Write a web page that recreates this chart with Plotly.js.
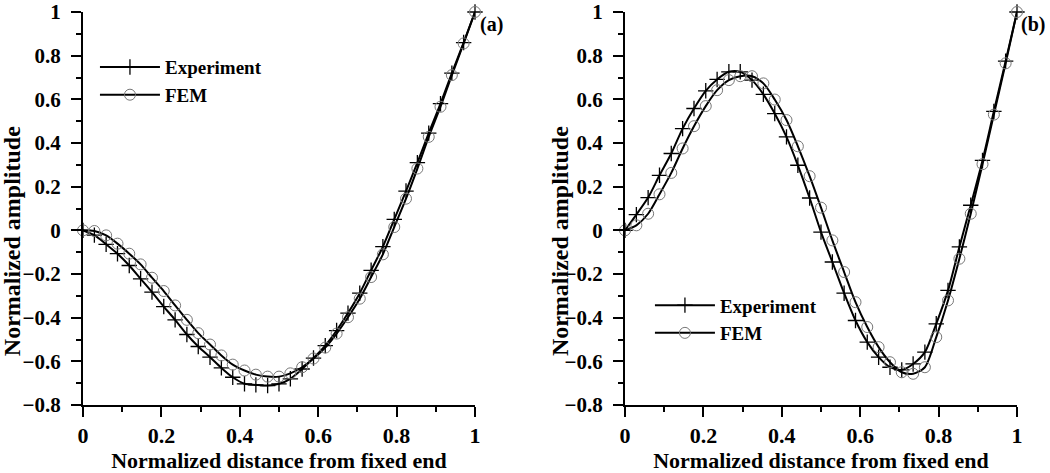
<!DOCTYPE html>
<html>
<head>
<meta charset="utf-8">
<script src="https://cdn.plot.ly/plotly-3.0.1.min.js"></script>
<style>
  html, body { margin: 0; padding: 0; background: #fff; }
  #chart { width: 1050px; height: 473px; }
</style>
</head>
<body>
<div id="chart"></div>
<script>
// Normalized positions along the beam
const positions = [0, 0.029, 0.059, 0.088, 0.118, 0.147, 0.176, 0.206, 0.235, 0.265, 0.294, 0.324,
  0.353, 0.382, 0.412, 0.441, 0.471, 0.5, 0.529, 0.559, 0.588, 0.618, 0.647, 0.676, 0.706, 0.735,
  0.765, 0.794, 0.824, 0.853, 0.882, 0.912, 0.941, 0.971, 1];

// (a) mode shape
const expA = [0, -0.022, -0.064, -0.107, -0.161, -0.222, -0.283, -0.349, -0.410, -0.477, -0.532, -0.581,
  -0.630, -0.673, -0.703, -0.708, -0.711, -0.703, -0.680, -0.635, -0.585, -0.528, -0.459, -0.379, -0.288,
  -0.183, -0.075, 0.05, 0.18, 0.31, 0.445, 0.58, 0.72, 0.86, 1.0];
const femA = [0, -0.003, -0.023, -0.061, -0.107, -0.156, -0.217, -0.278, -0.344, -0.410, -0.471, -0.523,
  -0.573, -0.615, -0.642, -0.661, -0.670, -0.670, -0.655, -0.627, -0.587, -0.537, -0.473, -0.398, -0.313,
  -0.214, -0.110, 0.015, 0.145, 0.283, 0.428, 0.566, 0.711, 0.856, 1.0];

// (b) mode shape
const expB = [0, 0.072, 0.150, 0.252, 0.352, 0.466, 0.558, 0.639, 0.691, 0.726, 0.726, 0.688, 0.623,
  0.535, 0.428, 0.298, 0.148, -0.008, -0.145, -0.288, -0.413, -0.512, -0.581, -0.627, -0.639, -0.612,
  -0.558, -0.428, -0.275, -0.076, 0.115, 0.32, 0.545, 0.775, 1.0];
const femB = [0, 0.023, 0.076, 0.165, 0.263, 0.375, 0.477, 0.569, 0.642, 0.688, 0.706, 0.706, 0.673,
  0.599, 0.505, 0.385, 0.248, 0.104, -0.046, -0.191, -0.329, -0.443, -0.535, -0.604, -0.650, -0.657,
  -0.627, -0.489, -0.321, -0.130, 0.076, 0.303, 0.53, 0.765, 1.0];

const seriesNames = ['Experiment', 'FEM'];
const panelLabels = ['(a)', '(b)'];
const xTitle = 'Normalized distance from fixed end';
const yTitle = 'Normalized amplitude';

const FONT = 'Liberation Serif, Times New Roman, serif';

function expTrace(y, xa, ya, leg) {
  return {
    x: positions, y: y, xaxis: xa, yaxis: ya, legend: leg,
    name: seriesNames[0], type: 'scatter', mode: 'lines+markers', cliponaxis: false,
    line: {color: '#000', width: 2, shape: 'spline', smoothing: 0.8},
    marker: {symbol: 'cross-thin', size: 11, color: '#000', line: {color: '#000', width: 1.3}}
  };
}
function femTrace(y, xa, ya, leg) {
  return {
    x: positions, y: y, xaxis: xa, yaxis: ya, legend: leg,
    name: seriesNames[1], type: 'scatter', mode: 'lines+markers', cliponaxis: false,
    line: {color: '#000', width: 2, shape: 'spline', smoothing: 0.8},
    marker: {symbol: 'circle-open', size: 11, color: '#777', line: {color: '#777', width: 1}}
  };
}

const data = [
  expTrace(expA, 'x', 'y', 'legend'),
  femTrace(femA, 'x', 'y', 'legend'),
  expTrace(expB, 'x2', 'y2', 'legend2'),
  femTrace(femB, 'x2', 'y2', 'legend2')
];

function xAxis(domain, anchor) {
  return {
    domain: domain, anchor: anchor, range: [0, 1], dtick: 0.2, tick0: 0,
    showline: true, linecolor: '#000', linewidth: 2, mirror: false,
    ticks: 'outside', ticklen: 10, tickwidth: 2, tickcolor: '#000',
    minor: {dtick: 0.1, ticks: 'outside', ticklen: 5, tickwidth: 2, tickcolor: '#000'},
    showgrid: false, zeroline: false, ticklabelstandoff: 0, ticklabeloverflow: 'allow',
    tickfont: {family: FONT, size: 22, color: '#000', weight: 'bold'},
    title: {text: xTitle, standoff: 8, font: {family: FONT, size: 22, color: '#000', weight: 'bold'}}
  };
}
function yAxis(anchor) {
  return {
    domain: [0, 1], anchor: anchor, range: [-0.8, 1], dtick: 0.2, tick0: 0,
    showline: true, linecolor: '#000', linewidth: 2, mirror: false,
    ticks: 'outside', ticklen: 10, tickwidth: 2, tickcolor: '#000',
    minor: {dtick: 0.1, ticks: 'outside', ticklen: 5, tickwidth: 2, tickcolor: '#000'},
    showgrid: false, zeroline: false, ticklabelstandoff: 6, ticklabeloverflow: 'allow',
    tickfont: {family: FONT, size: 21, color: '#000', weight: 'bold'}
  };
}

const legendBase = {
  bgcolor: 'rgba(0,0,0,0)', borderwidth: 0, itemwidth: 60, tracegroupgap: 0,
  font: {family: FONT, size: 19, color: '#000', weight: 'bold'},
  xanchor: 'left', yanchor: 'top'
};

const titleFont = {family: FONT, size: 24, color: '#000', weight: 'bold'};
const labelFont = {family: FONT, size: 20, color: '#000', weight: 'bold'};

const layout = {
  width: 1050, height: 473,
  margin: {l: 83, r: 33, t: 12, b: 68},
  paper_bgcolor: '#fff', plot_bgcolor: '#fff',
  font: {family: FONT, color: '#000'},
  xaxis: xAxis([0, 0.4197], 'y'),
  yaxis: yAxis('x'),
  xaxis2: xAxis([0.5803, 1], 'y2'),
  yaxis2: yAxis('x2'),
  showlegend: true,
  legend: Object.assign({}, legendBase, {x: 0.0128, y: 0.908}),
  legend2: Object.assign({}, legendBase, {x: 0.607, y: 0.302}),
  annotations: [
    {text: panelLabels[0], xref: 'paper', yref: 'paper', x: 0.4379, y: 0.967,
     xanchor: 'center', yanchor: 'middle', showarrow: false, font: labelFont},
    {text: panelLabels[1], xref: 'paper', yref: 'paper', x: 1.0171, y: 0.967,
     xanchor: 'center', yanchor: 'middle', showarrow: false, font: labelFont},
    {text: yTitle, xref: 'paper', yref: 'paper', x: -0.0760, y: 0.417, textangle: -90,
     xanchor: 'center', yanchor: 'middle', showarrow: false, font: titleFont},
    {text: yTitle, xref: 'paper', yref: 'paper', x: 0.5107, y: 0.417, textangle: -90,
     xanchor: 'center', yanchor: 'middle', showarrow: false, font: titleFont}
  ]
};

Plotly.newPlot('chart', data, layout, {displayModeBar: false, staticPlot: true});
</script>
</body>
</html>
